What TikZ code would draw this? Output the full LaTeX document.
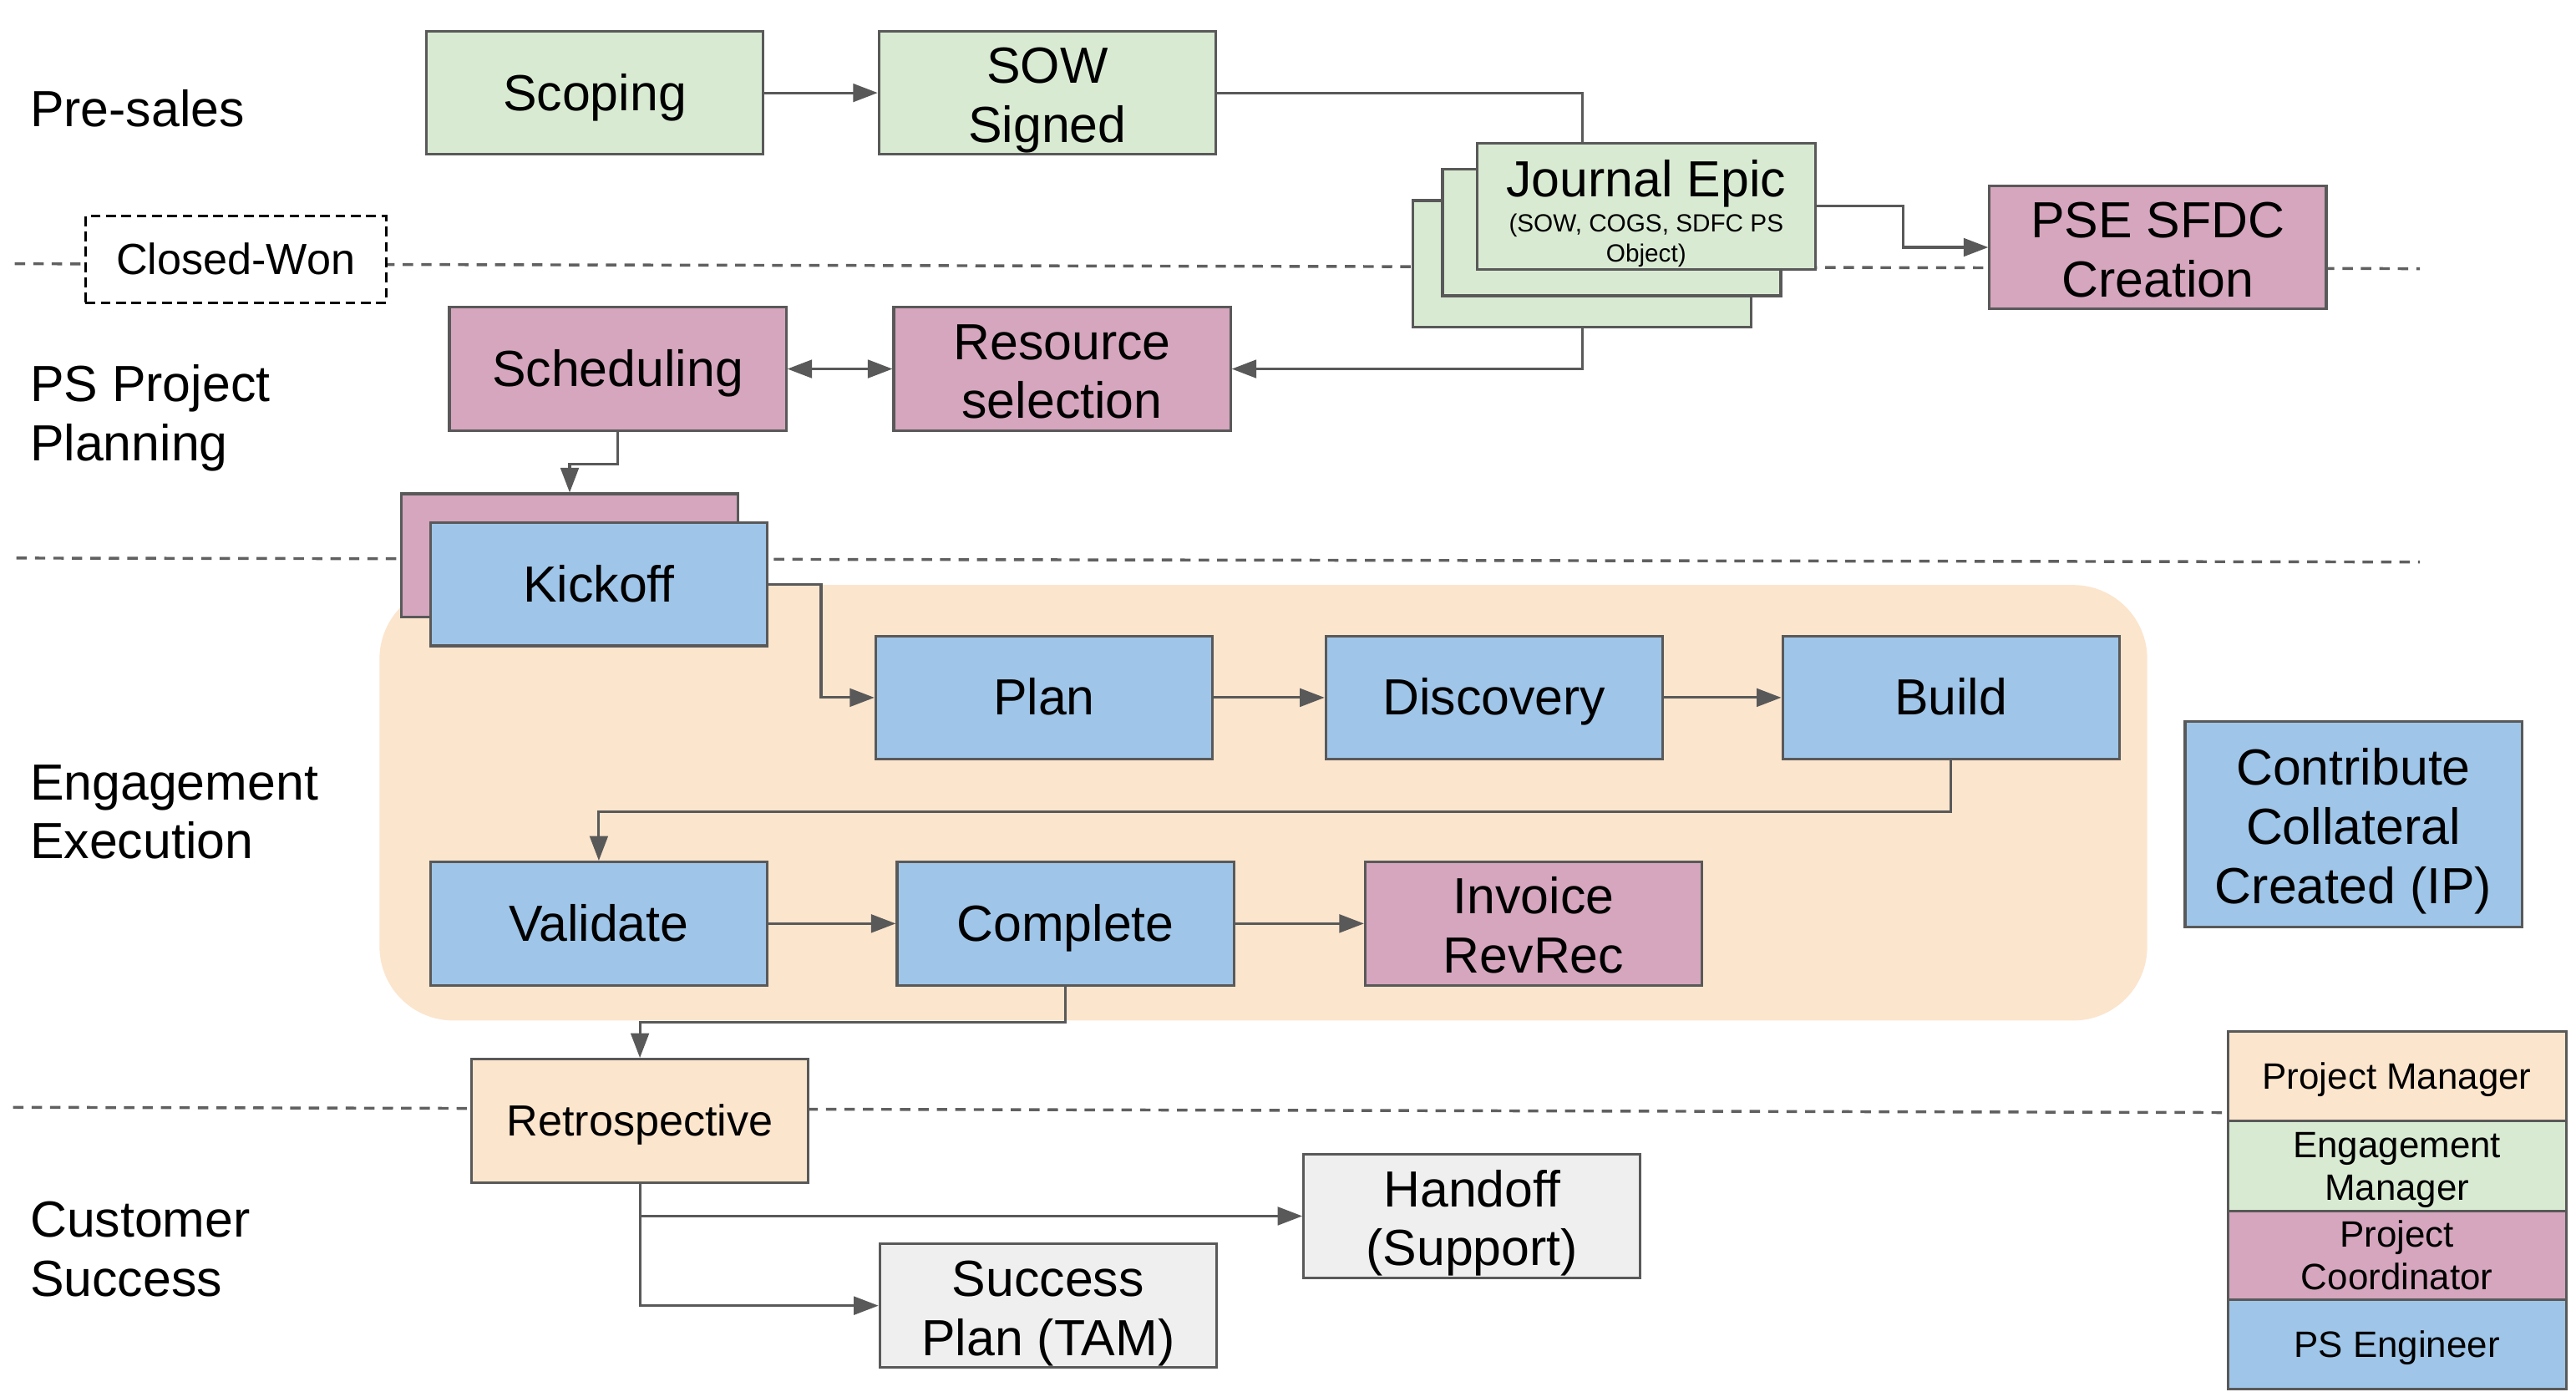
\documentclass[tikz,border=0pt]{standalone}
\usepackage{fontspec}
\setmainfont{Liberation Sans}
\usetikzlibrary{arrows.meta}
\definecolor{cGreen}{HTML}{D9EAD3}
\definecolor{cPink}{HTML}{D5A6BD}
\definecolor{cBlue}{HTML}{9FC5E8}
\definecolor{cPeach}{HTML}{FCE5CD}
\definecolor{cGray}{HTML}{EFEFEF}
\definecolor{cLine}{HTML}{595959}
\definecolor{cLane}{HTML}{606060}
\newcommand\gstrutx{\vrule height .905em depth .212em width 0pt}
\newcommand\gstrutm{\vrule height 1.0em depth .212em width 0pt}
\newcommand\fsMain{\fontsize{17.6pt}{20.5pt}\selectfont}
\newcommand\fsMid{\fontsize{15.1pt}{17.8pt}\selectfont}
\newcommand\fsLeg{\fontsize{12.7pt}{14.8pt}\selectfont}
\newcommand\fsSub{\fontsize{8.6pt}{10.24pt}\selectfont}
\pgfdeclarelayer{bg}
\pgfdeclarelayer{conn}
\pgfsetlayers{bg,conn,main}
\begin{document}
\begin{tikzpicture}[x=0.02cm, y=-0.02cm,
  box/.style={draw=cLine, line width=0.9pt, minimum width=4.1cm, minimum height=1.5cm,
    inner sep=0pt, align=center, font=\fsMain,
    execute at begin node=\gstrutx, execute at end node=\gstrutx},
  epicbox/.style={box, fill=cGreen, minimum width=4.12cm, minimum height=1.54cm},
  legbox/.style={box, minimum width=4.12cm, minimum height=1.09cm, font=\fsLeg},
  plain/.style={inner sep=0pt, align=center,
    execute at begin node=\gstrutx, execute at end node=\gstrutx},
  lane/.style={anchor=west, inner sep=0pt, align=left, font=\fsMain,
    execute at begin node=\gstrutx, execute at end node=\gstrutx},
  laneline/.style={draw=cLane, line width=1pt, dash pattern=on 3.6pt off 2.8pt},
  ln/.style={draw=cLine, line width=0.9pt},
  arr/.style={ln, -{Triangle[length=0.3cm,width=0.22cm]}},
  arrtwo/.style={ln, {Triangle[length=0.3cm,width=0.22cm]}-{Triangle[length=0.3cm,width=0.22cm]}}
]
\useasboundingbox (0,0) rectangle (1568,847);

% background: engagement region and lane separators
\begin{pgfonlayer}{bg}
  \fill[cPeach, rounded corners=0.9cm] (231,356) rectangle (1307,621);
  \draw[laneline] (9,160.5) -- (1473,163.5);
  \draw[laneline] (10,339.6) -- (1473,342);
  \draw[laneline] (8,673.8) -- (1356,677);
\end{pgfonlayer}

% lane labels
\node[lane] (lpre) at (18,66.3) {Pre-sales};
\node[lane] (lplan) at (18,250) {\gstrutm PS Project\\Planning};
\node[lane] (lexec) at (18,492.4) {\gstrutm Engagement\\Execution};
\node[lane] (lcust) at (18,758.8) {\gstrutm Customer\\Success};

% pre-sales
\node[box, fill=cGreen] (scoping) at (362,56.5) {Scoping};
\node[box, fill=cGreen] (sow) at (637.5,56.5) {\gstrutm SOW\\Signed};
\node[epicbox] (epic3) at (963,160.5) {};
\node[epicbox] (epic2) at (981,141.5) {};
\node[epicbox] (epic1) at (1002,125.5) {};
\node[plain, font=\fsMain] (epictitle) at (1002,109.1) {Journal Epic};
\node[plain, font=\fsSub] (epicsub) at (1002,145.1) {\gstrutx(SOW, COGS, SDFC PS\\Object)};
\node[box, fill=cPink] (pse) at (1313.5,150.5) {\gstrutm PSE SFDC\\Creation};
\node[draw=black, line width=0.8pt, dash pattern=on 3.4pt off 1.9pt, fill=white,
  minimum width=3.66cm, minimum height=1.06cm, inner sep=0pt, font=\fsMid,
  execute at begin node=\gstrutx, execute at end node=\gstrutx] (closed) at (143.5,158) {Closed-Won};

% planning
\node[box, fill=cPink] (sched) at (376,224.5) {Scheduling};
\node[box, fill=cPink] (resource) at (646.5,224.5) {\gstrutm Resource\\selection};

% execution
\node[box, fill=cPink] (kickback) at (346.75,338) {};
\node[box, fill=cBlue] (kickoff) at (364.5,355.5) {Kickoff};
\node[box, fill=cBlue] (plan) at (635.5,424.5) {Plan};
\node[box, fill=cBlue] (discovery) at (909.5,424.5) {Discovery};
\node[box, fill=cBlue] (build) at (1187.5,424.5) {Build};
\node[box, fill=cBlue] (validate) at (364.5,562) {Validate};
\node[box, fill=cBlue] (complete) at (648.5,562) {Complete};
\node[box, fill=cPink] (invoice) at (933.5,562) {\gstrutm Invoice\\RevRec};
\node[box, fill=cBlue, minimum height=2.5cm] (contrib) at (1432.5,501.5) {\gstrutm Contribute\\Collateral\\Created (IP)};

% customer success
\node[box, fill=cPeach, font=\fsMid] (retro) at (389.5,682) {Retrospective};
\node[box, fill=cGray] (handoff) at (896,740) {\gstrutm Handoff\\(Support)};
\node[box, fill=cGray] (success) at (638,794.5) {\gstrutm Success\\Plan (TAM)};

% legend
\node[legbox, fill=cPeach] (lgpm) at (1459,655) {Project Manager};
\node[legbox, fill=cGreen] (lgem) at (1459,709.5) {\gstrutx Engagement\\Manager};
\node[legbox, fill=cPink] (lgpc) at (1459,764) {\gstrutx Project\\Coordinator};
\node[legbox, fill=cBlue] (lgpse) at (1459,818) {PS Engineer};

% connectors
\begin{pgfonlayer}{conn}
  \draw[arr] (scoping.east) -- (sow.west);
  \draw[ln] (sow.east) -| (epic3.north);
  \draw[arr] (epic3.south) |- (resource.east);
  \draw[arr] (epic1.east) -- ++(52.5,0) |- (pse.west);
  \draw[arrtwo] (sched.east) -- (resource.west);
  \draw[arr] (sched.south) -- ++(0,19.5) -| (kickback.north);
  \draw[arr] (kickoff.east) -- ++(32,0) |- (plan.west);
  \draw[arr] (plan.east) -- (discovery.west);
  \draw[arr] (discovery.east) -- (build.west);
  \draw[arr] (build.south) -- ++(0,31) -| (validate.north);
  \draw[arr] (validate.east) -- (complete.west);
  \draw[arr] (complete.east) -- (invoice.west);
  \draw[arr] (complete.south) -- ++(0,22) -| (retro.north);
  \draw[arr] (retro.south) |- (handoff.west);
  \draw[arr] (retro.south) |- (success.west);
\end{pgfonlayer}
\end{tikzpicture}
\end{document}
